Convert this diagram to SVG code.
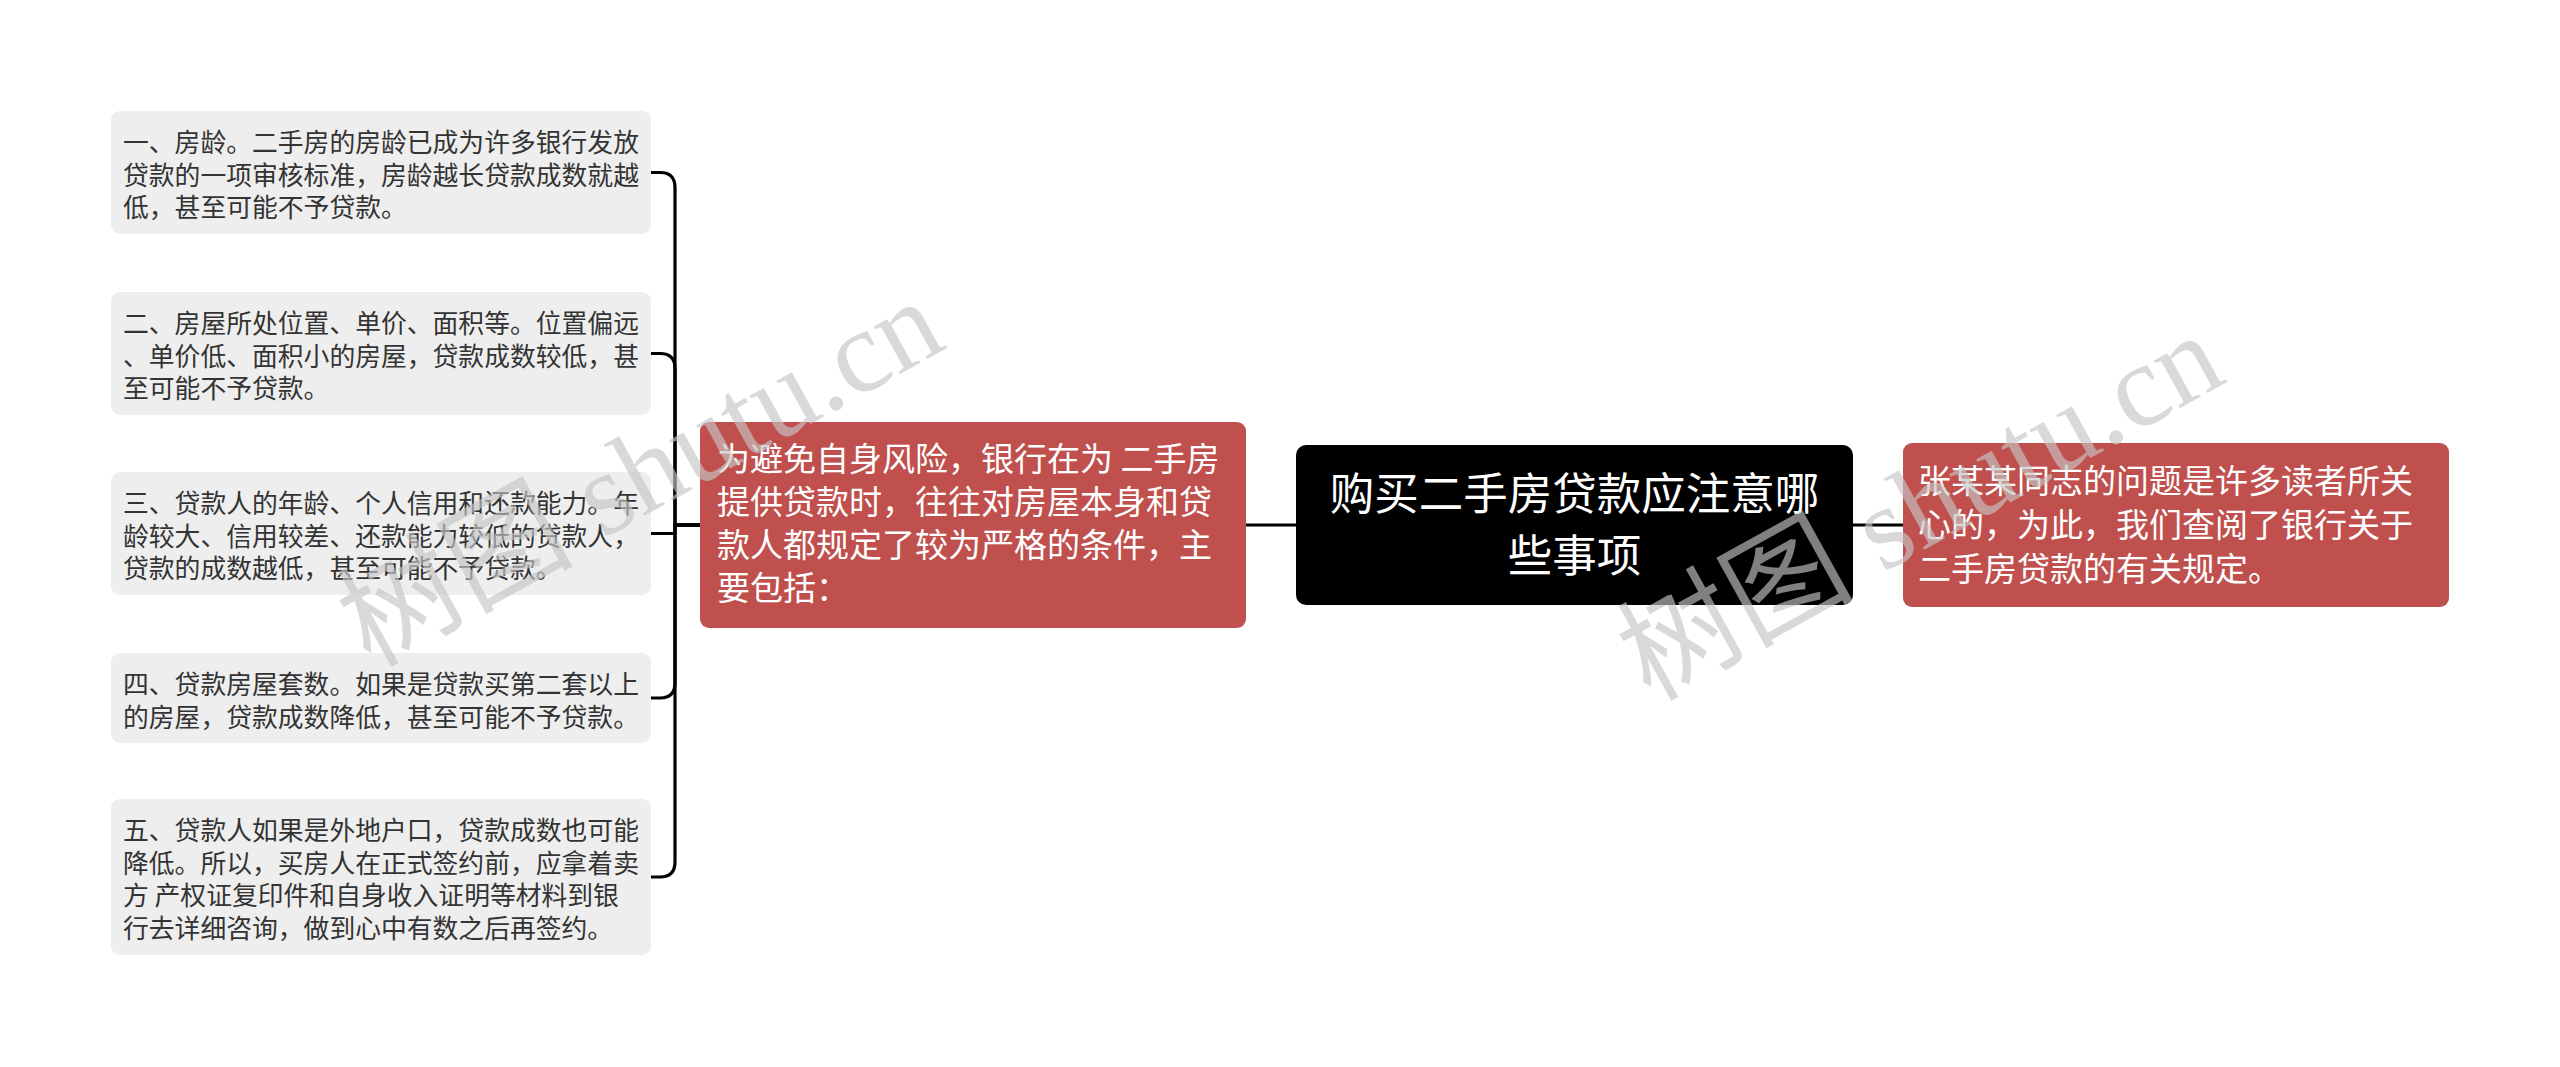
<svg xmlns="http://www.w3.org/2000/svg" width="2560" height="1067" viewBox="0 0 2560 1067">
<style>
.leaf{fill:#eeeeee}
.leaf-t{font-family:"Noto Sans CJK SC","Noto Sans",sans-serif;font-size:25.8px;fill:#333333}
.red{fill:#c0504d}
.red-t{font-family:"Noto Sans CJK SC","Noto Sans",sans-serif;font-size:33px;fill:#ffffff}
.root{fill:#000000}
.root-t{font-family:"Noto Sans CJK SC","Noto Sans",sans-serif;font-size:44.5px;fill:#ffffff;text-anchor:middle}
.conn{fill:none;stroke:#000000;stroke-width:3.2;stroke-linejoin:round;stroke-linecap:butt}
.wm{font-family:"Liberation Serif","Noto Sans CJK SC",serif;font-size:118px;fill:#c4c4c4;fill-opacity:0.65}
</style>
<rect width="2560" height="1067" fill="#ffffff"/>
<g id="connectors">
<path class="conn" d="M1296 525 H1246"/>
<path class="conn" d="M1853 525 H1903"/>
<path class="conn" d="M700 525 H675 V187.5 Q675 172.5 660 172.5 H651"/>
<path class="conn" d="M700 525 H675 V368.5 Q675 353.5 660 353.5 H651"/>
<path class="conn" d="M700 525 H675 V533.5 H651"/>
<path class="conn" d="M700 525 H675 V683 Q675 698 660 698 H651"/>
<path class="conn" d="M700 525 H675 V862 Q675 877 660 877 H651"/>
</g>
<g id="root">
<rect class="root" x="1296" y="445" width="557" height="160" rx="10"/>
<text class="root-t" x="1574.5" y="510">购买二手房贷款应注意哪</text>
<text class="root-t" x="1574.5" y="572">些事项</text>
</g>
<g id="intro-right">
<rect class="red" x="1903" y="443" width="546" height="164" rx="9"/>
<text class="red-t" x="1918" y="493">张某某同志的问题是许多读者所关</text>
<text class="red-t" x="1918" y="537">心的，为此，我们查阅了银行关于</text>
<text class="red-t" x="1918" y="581">二手房贷款的有关规定。</text>
</g>
<g id="branch-left">
<rect class="red" x="700" y="422" width="546" height="206" rx="9"/>
<text class="red-t" x="717" y="471">为避免自身风险，银行在为 二手房</text>
<text class="red-t" x="717" y="514">提供贷款时，往往对房屋本身和贷</text>
<text class="red-t" x="717" y="557">款人都规定了较为严格的条件，主</text>
<text class="red-t" x="717" y="600">要包括：</text>
</g>
<g id="item1">
<rect class="leaf" x="111" y="111" width="540" height="123" rx="9"/>
<text class="leaf-t" x="123" y="152">一、房龄。二手房的房龄已成为许多银行发放</text>
<text class="leaf-t" x="123" y="184.5">贷款的一项审核标准，房龄越长贷款成数就越</text>
<text class="leaf-t" x="123" y="217">低，甚至可能不予贷款。</text>
</g>
<g id="item2">
<rect class="leaf" x="111" y="292" width="540" height="123" rx="9"/>
<text class="leaf-t" x="123" y="333">二、房屋所处位置、单价、面积等。位置偏远</text>
<text class="leaf-t" x="123" y="365.5">、单价低、面积小的房屋，贷款成数较低，甚</text>
<text class="leaf-t" x="123" y="398">至可能不予贷款。</text>
</g>
<g id="item3">
<rect class="leaf" x="111" y="472" width="540" height="123" rx="9"/>
<text class="leaf-t" x="123" y="513">三、贷款人的年龄、个人信用和还款能力。年</text>
<text class="leaf-t" x="123" y="545.5">龄较大、信用较差、还款能力较低的贷款人，</text>
<text class="leaf-t" x="123" y="578">贷款的成数越低，甚至可能不予贷款。</text>
</g>
<g id="item4">
<rect class="leaf" x="111" y="653" width="540" height="90" rx="9"/>
<text class="leaf-t" x="123" y="694">四、贷款房屋套数。如果是贷款买第二套以上</text>
<text class="leaf-t" x="123" y="726.5">的房屋，贷款成数降低，甚至可能不予贷款。</text>
</g>
<g id="item5">
<rect class="leaf" x="111" y="799" width="540" height="156" rx="9"/>
<text class="leaf-t" x="123" y="840">五、贷款人如果是外地户口，贷款成数也可能</text>
<text class="leaf-t" x="123" y="872.5">降低。所以，买房人在正式签约前，应拿着卖</text>
<text class="leaf-t" x="123" y="905">方 产权证复印件和自身收入证明等材料到银</text>
<text class="leaf-t" x="123" y="937.5">行去详细咨询，做到心中有数之后再签约。</text>
</g>
<g id="watermarks">
<text class="wm" transform="translate(370 668) rotate(-29)">树图 shutu.cn</text>
<text class="wm" transform="translate(1650 702) rotate(-29)">树图 shutu.cn</text>
</g>
</svg>
